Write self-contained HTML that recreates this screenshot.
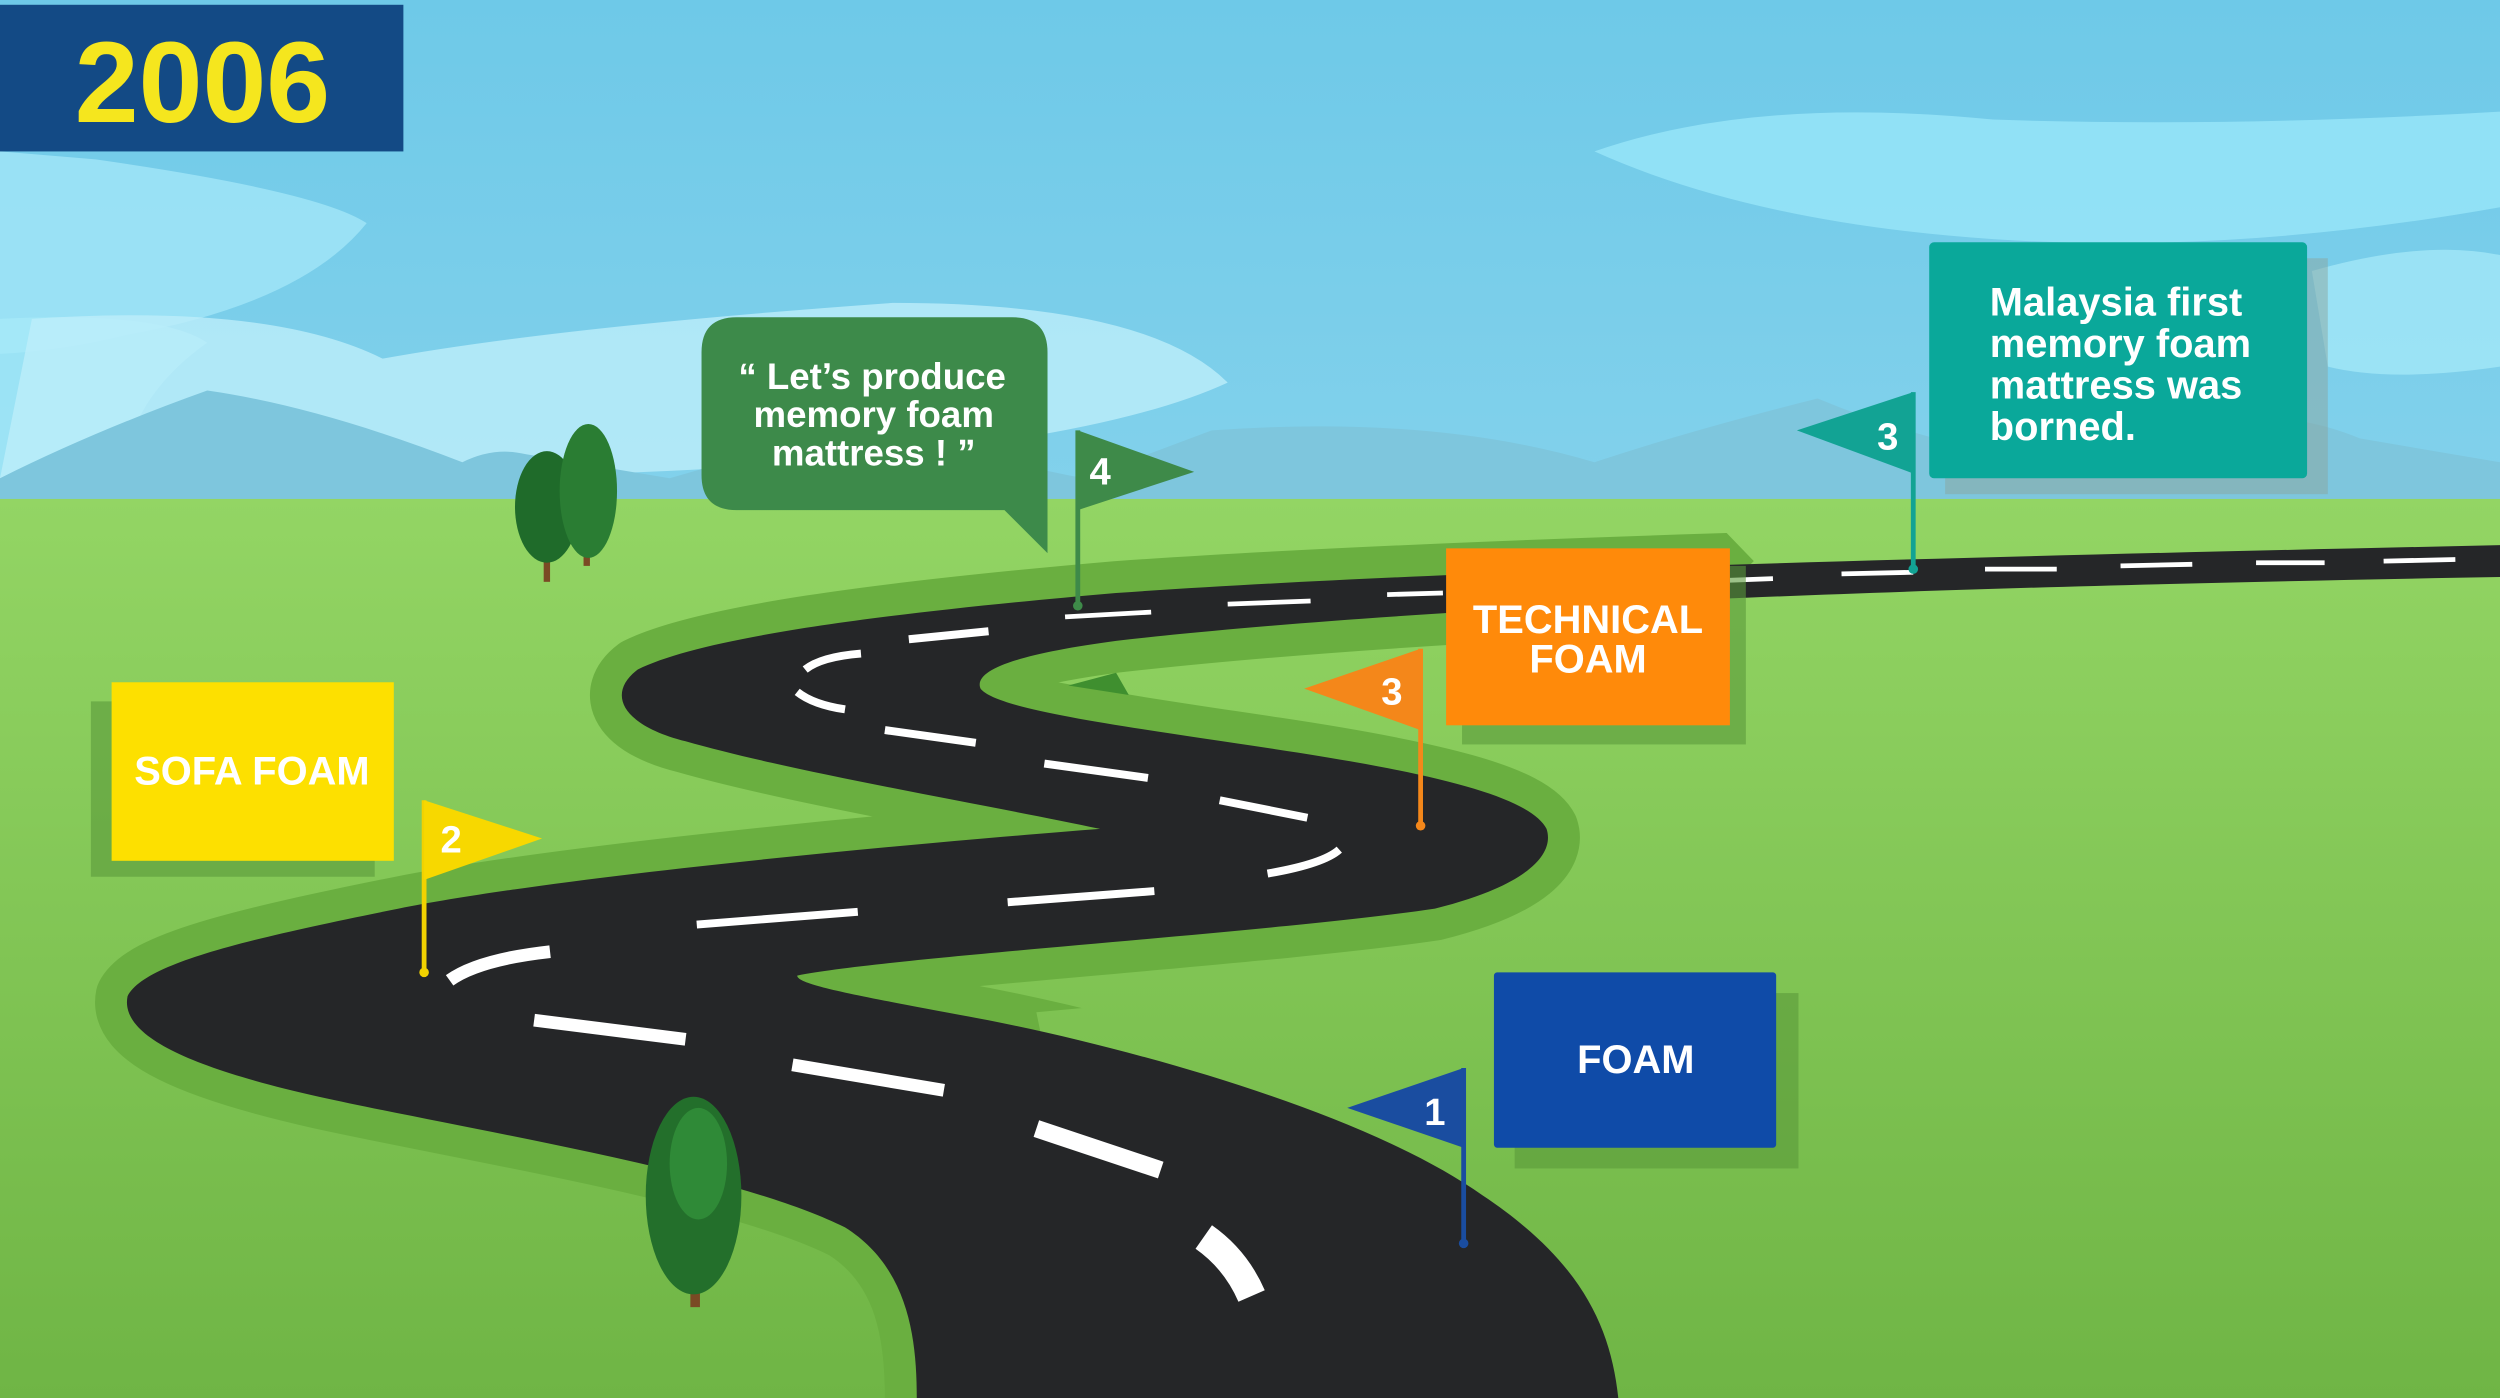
<!DOCTYPE html>
<html><head><meta charset="utf-8"><style>
html,body{margin:0;padding:0;width:2500px;height:1398px;overflow:hidden}
svg{display:block}
text{font-family:"Liberation Sans",sans-serif;font-weight:bold}
</style></head><body>
<svg width="2500" height="1398" viewBox="0 0 1568 877" preserveAspectRatio="none">
<defs>
<linearGradient id="sky" x1="0" y1="0" x2="0" y2="1">
<stop offset="0" stop-color="#6ec9e8"/><stop offset="1" stop-color="#a6e0f2"/></linearGradient>
<linearGradient id="grass" x1="0" y1="0" x2="0" y2="1">
<stop offset="0" stop-color="#93d564"/><stop offset="1" stop-color="#6fb545"/></linearGradient>
<clipPath id="sh"><path d="M0 0 H760 L1100 352 L1030 420 V600 L650 635 L700 877 H0 Z"/></clipPath>
</defs>
<rect width="1568" height="877" fill="url(#sky)"/>
<path d="M0 95 L60 100 Q200 120 230 140 Q190 190 80 210 Q40 220 0 222 Z" fill="#a2e6f8" opacity="0.8"/>
<path d="M0 200 Q100 195 130 215 Q80 250 75 305 L0 305 Z" fill="#a8ebfa" opacity="0.7"/>
<path d="M20 200 Q170 190 240 225 Q350 205 560 190 Q720 190 770 240 Q640 300 200 300 L0 300 Z" fill="#bdeefa" opacity="0.8"/>
<path d="M1000 95 Q1100 60 1250 75 Q1400 80 1568 70 L1568 130 Q1400 160 1250 150 Q1100 140 1000 95 Z" fill="#98e6f9" opacity="0.8"/>
<path d="M1450 170 Q1520 150 1568 160 L1568 230 Q1500 240 1460 230 Z" fill="#a8ebfa" opacity="0.7"/>
<path d="M0 300 Q60 270 130 245 Q200 255 290 290 Q310 280 330 285 L420 300 L560 260 Q620 290 680 300 L760 270 Q900 260 1000 290 Q1060 270 1140 250 Q1200 275 1260 285 L1340 270 Q1420 250 1480 275 L1568 290 L1568 320 L0 320 Z" fill="#7ec6dd"/>
<rect y="313" width="1568" height="564" fill="url(#grass)"/>
<path clip-path="url(#sh)" d="M1568 342 C1200 350 900 358 700 372 C550 385 440 400 400 420 C380 435 390 455 430 465 C500 485 620 505 690 520 C560 530 350 550 250 570 C150 590 90 605 80 625 C75 650 120 670 200 688 C300 710 460 735 530 770 C570 795 575 840 575 877 L1015 877 C1010 830 990 790 930 750 C860 700 720 660 620 640 C540 625 500 618 500 612 C560 600 800 585 900 570 C960 555 975 535 970 520 C960 500 900 485 800 470 C700 455 625 445 615 432 C610 420 640 410 700 402 C850 385 1100 370 1568 362 Z" fill="#6aaf40" stroke="#6aaf40" stroke-width="40" stroke-linejoin="round"/>
<path d="M1568 342 C1200 350 900 358 700 372 C550 385 440 400 400 420 C380 435 390 455 430 465 C500 485 620 505 690 520 C560 530 350 550 250 570 C150 590 90 605 80 625 C75 650 120 670 200 688 C300 710 460 735 530 770 C570 795 575 840 575 877 L1015 877 C1010 830 990 790 930 750 C860 700 720 660 620 640 C540 625 500 618 500 612 C560 600 800 585 900 570 C960 555 975 535 970 520 C960 500 900 485 800 470 C700 455 625 445 615 432 C610 420 640 410 700 402 C850 385 1100 370 1568 362 Z" fill="#252628"/>
<g stroke="#fff" stroke-linecap="butt" fill="none">
<g stroke-width="3">
<line x1="1495" y1="352" x2="1540" y2="351"/><line x1="1415" y1="353" x2="1458" y2="353"/>
<line x1="1330" y1="355" x2="1375" y2="354"/><line x1="1245" y1="357" x2="1290" y2="357"/>
<line x1="1155" y1="360" x2="1200" y2="359"/><line x1="1085" y1="364" x2="1112" y2="363"/>
<line x1="870" y1="373" x2="905" y2="372"/><line x1="770" y1="379" x2="822" y2="377"/>
<line x1="668" y1="387" x2="722" y2="384"/></g>
<g stroke-width="5">
<line x1="570" y1="401" x2="620" y2="396"/>
<path d="M505 420 Q515 412 540 410"/><path d="M500 434 Q510 442 530 445"/>
<line x1="555" y1="458" x2="612" y2="466"/><line x1="655" y1="479" x2="720" y2="488"/>
<line x1="765" y1="502" x2="820" y2="513"/><path d="M795 548 Q830 542 840 533"/>
<line x1="632" y1="566" x2="724" y2="559"/><line x1="437" y1="580" x2="538" y2="572"/></g>
<g stroke-width="8">
<path d="M282 615 Q300 602 345 597"/>
<line x1="335" y1="640" x2="430" y2="652"/><line x1="497" y1="668" x2="592" y2="684"/></g>
<line x1="650" y1="708" x2="728" y2="734" stroke-width="11"/>
<path d="M755 776 Q775 790 785 813" stroke-width="18"/>
</g>
<g>
<rect x="341" y="330" width="4" height="35" fill="#7a4a24"/><rect x="366" y="320" width="4" height="35" fill="#7a4a24"/>
<ellipse cx="343" cy="318" rx="20" ry="35" fill="#1f6b2a"/><ellipse cx="369" cy="308" rx="18" ry="42" fill="#2a7d33"/>
<rect x="433" y="780" width="6" height="40" fill="#7a4a24"/>
<ellipse cx="435" cy="750" rx="30" ry="62" fill="#236f2b"/><ellipse cx="438" cy="730" rx="18" ry="35" fill="#2f8a37"/>
<path d="M670 430 L700 422 L708 436 Z" fill="#3f8f2f"/>
</g>
<rect x="0" y="3" width="253" height="92" fill="#134a85"/>
<text x="127" y="52" font-size="72" fill="#f5e61e" text-anchor="middle" dominant-baseline="central">2006</text>
<rect x="57" y="440" width="178" height="110" fill="#5a9a3a" opacity="0.6"/>
<rect x="70" y="428" width="177" height="112" fill="#fde000"/>
<text x="158" y="484" font-size="25" fill="#fff" text-anchor="middle" dominant-baseline="central">SOFA FOAM</text>
<line x1="266" y1="502" x2="266" y2="610" stroke="#f2d200" stroke-width="3"/><circle cx="266" cy="610" r="3" fill="#f2d200"/>
<path d="M266 502 L340 526 L266 552 Z" fill="#f7d800"/>
<text x="283" y="527" font-size="24" fill="#fff" text-anchor="middle" dominant-baseline="central">2</text>
<path d="M462 199 H635 Q657 199 657 221 V347 L630 320 H462 Q440 320 440 298 V221 Q440 199 462 199 Z" fill="#3d8a4a"/>
<g font-size="23" fill="#fff" text-anchor="middle">
<text x="547" y="244">“ Let’s produce</text><text x="548" y="268">memory foam</text><text x="548" y="292">mattress ! ”</text></g>
<line x1="676" y1="270" x2="676" y2="380" stroke="#3e8a49" stroke-width="3"/><circle cx="676" cy="380" r="3" fill="#3e8a49"/>
<path d="M676 270 L749 296 L676 320 Z" fill="#3e8a49"/>
<text x="690" y="296" font-size="24" fill="#fff" text-anchor="middle" dominant-baseline="central">4</text>
<rect x="917" y="355" width="178" height="112" fill="#5a9a3a" opacity="0.6"/>
<rect x="907" y="344" width="178" height="111" fill="#ff8a0a"/>
<g font-size="25" fill="#fff" text-anchor="middle"><text x="996" y="397">TECHNICAL</text><text x="996" y="422">FOAM</text></g>
<line x1="891" y1="407" x2="891" y2="518" stroke="#f4871a" stroke-width="3"/><circle cx="891" cy="518" r="3" fill="#f4871a"/>
<path d="M891 407 L818 432 L891 458 Z" fill="#f4871a"/>
<text x="873" y="434" font-size="24" fill="#fff" text-anchor="middle" dominant-baseline="central">3</text>
<rect x="1220" y="162" width="240" height="148" fill="#8aa6a0" opacity="0.5"/>
<rect x="1210" y="152" width="237" height="148" rx="3" fill="#0aa89a"/>
<g font-size="25" fill="#fff"><text x="1248" y="198">Malaysia first</text><text x="1248" y="224">memory foam</text><text x="1248" y="250">mattress was</text><text x="1248" y="276">borned.</text></g>
<line x1="1200" y1="246" x2="1200" y2="357" stroke="#12a394" stroke-width="3"/><circle cx="1200" cy="357" r="3" fill="#12a394"/>
<path d="M1200 246 L1127 270 L1200 297 Z" fill="#12a394"/>
<text x="1184" y="274" font-size="24" fill="#fff" text-anchor="middle" dominant-baseline="central">3</text>
<rect x="950" y="623" width="178" height="110" fill="#5a9a3a" opacity="0.6"/>
<rect x="937" y="610" width="177" height="110" rx="2" fill="#0f4ba8"/>
<text x="1026" y="665" font-size="25" fill="#fff" text-anchor="middle" dominant-baseline="central">FOAM</text>
<line x1="918" y1="670" x2="918" y2="780" stroke="#1a4da0" stroke-width="3"/><circle cx="918" cy="780" r="3" fill="#1a4da0"/>
<path d="M918 670 L845 695 L918 720 Z" fill="#1a4da0"/>
<text x="900" y="698" font-size="24" fill="#fff" text-anchor="middle" dominant-baseline="central">1</text>
</svg>
</body></html>
